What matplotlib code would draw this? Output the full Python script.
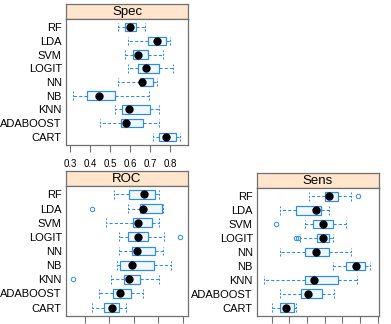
#!/usr/bin/env python3
"""Lattice-style bwplot of resampled Spec / ROC / Sens per model."""
import matplotlib
matplotlib.use("Agg")
import matplotlib.pyplot as plt

plt.rcParams["font.family"] = ["Liberation Sans", "DejaVu Sans"]

# top-to-bottom order as shown
models = ["RF", "LDA", "SVM", "LOGIT", "NN", "NB", "KNN", "ADABOOST", "CART"]

# five-number summaries: whisker low, q1, median, q3, whisker high
spec_stats = [
    [0.542, 0.575, 0.600, 0.630, 0.675],
    [0.592, 0.692, 0.733, 0.780, 0.800],
    [0.575, 0.617, 0.642, 0.692, 0.767],
    [0.592, 0.642, 0.678, 0.747, 0.817],
    [0.542, 0.650, 0.658, 0.713, 0.733],
    [0.317, 0.387, 0.443, 0.525, 0.695],
    [0.525, 0.558, 0.597, 0.700, 0.747],
    [0.450, 0.553, 0.580, 0.663, 0.747],
    [0.713, 0.747, 0.778, 0.830, 0.850],
]
spec_out = [[], [], [], [], [], [], [], [], []]

roc_stats = [
    [0.660, 0.691, 0.720, 0.744, 0.752],
    [0.688, 0.713, 0.718, 0.757, 0.760],
    [0.643, 0.699, 0.709, 0.738, 0.752],
    [0.670, 0.689, 0.709, 0.730, 0.761],
    [0.669, 0.696, 0.707, 0.744, 0.759],
    [0.665, 0.672, 0.696, 0.742, 0.776],
    [0.653, 0.679, 0.691, 0.712, 0.752],
    [0.629, 0.658, 0.672, 0.694, 0.718],
    [0.614, 0.639, 0.656, 0.669, 0.684],
]
roc_out = [[], [0.614], [], [0.795], [], [], [0.575], [], []]

sens_stats = [
    [0.414, 0.503, 0.525, 0.572, 0.646],
    [0.250, 0.339, 0.451, 0.479, 0.525],
    [0.391, 0.436, 0.488, 0.548, 0.618],
    [0.358, 0.457, 0.492, 0.525, 0.548],
    [0.250, 0.391, 0.451, 0.525, 0.646],
    [0.549, 0.618, 0.674, 0.726, 0.758],
    [0.159, 0.391, 0.442, 0.572, 0.683],
    [0.250, 0.364, 0.408, 0.483, 0.553],
    [0.200, 0.250, 0.280, 0.326, 0.339],
]
sens_out = [[0.689], [], [0.224], [0.336, 0.350], [], [], [], [], []]

spec_ticks = [0.3, 0.4, 0.5, 0.6, 0.7, 0.8]
roc_ticks = [0.60, 0.65, 0.70, 0.75, 0.80]
sens_ticks = [0.2, 0.3, 0.4, 0.5, 0.6, 0.7, 0.8]

BLUE = "#2a8cf0"
FRAME = "#707070"
STRIP = "#ffe5cc"
W, H = 391, 324

fig = plt.figure(figsize=(W / 100, H / 100), dpi=100)


def px_axes(x0, y0, x1, y1):
    # pixel box (top-left origin) -> figure axes
    return fig.add_axes([x0 / W, 1 - y1 / H, (x1 - x0) / W, (y1 - y0) / H])


def panel(x0, x1, ytop, ybot, title, stats, outs, xlim, ticks, ticklabels):
    strip = px_axes(x0, ytop, x1, ytop + 15)
    strip.set_facecolor(STRIP)
    strip.set_xticks([])
    strip.set_yticks([])
    for s in strip.spines.values():
        s.set_color(FRAME)
        s.set_linewidth(0.9)
    strip.text(0.5, 0.45, title, ha="center", va="center", fontsize=9.5,
               transform=strip.transAxes)

    ax = px_axes(x0, ytop + 15, x1, ybot)
    n = len(models)
    pos = [n - i for i in range(n)]
    bxp = []
    for i, m in enumerate(models):
        lo, q1, med, q3, hi = stats[i]
        bxp.append(dict(label=m, whislo=lo, q1=q1, med=med, q3=q3,
                        whishi=hi, fliers=outs[i]))
    ax.bxp(bxp, positions=pos, orientation="horizontal", widths=0.62,
           showfliers=True, patch_artist=True,
           boxprops=dict(facecolor="#f0f7ff", edgecolor=BLUE, linewidth=0.85),
           whiskerprops=dict(color=BLUE, linestyle=(0, (3, 2)), linewidth=0.75),
           capprops=dict(color=BLUE, linestyle=(0, (2, 1.5)), linewidth=0.75),
           capwidths=0.62,
           medianprops=dict(linewidth=0),
           flierprops=dict(marker="o", markersize=3.2, markerfacecolor="none",
                           markeredgecolor=BLUE, markeredgewidth=0.7))
    meds = [s[2] for s in stats]
    ax.plot(meds, pos, "o", color="black", markersize=5.0, zorder=5)

    ax.set_ylim(0.4, n + 0.6)
    ax.set_xlim(*xlim)
    ax.set_yticks(pos)
    ax.set_yticklabels(models, fontsize=8)
    ax.tick_params(axis="y", length=0, pad=3)
    ax.set_xticks(ticks)
    ax.set_xticklabels(ticklabels, fontsize=7)
    ax.tick_params(axis="x", length=5, width=0.8, color=FRAME, pad=5)
    for s in ax.spines.values():
        s.set_color(FRAME)
        s.set_linewidth(0.9)
    return ax


panel(66, 188, 4, 145, "Spec", spec_stats, spec_out, (0.28, 0.89),
      spec_ticks, [f"{t:.1f}" for t in spec_ticks])
panel(66, 188, 171, 316, "ROC", roc_stats, roc_out, (0.561, 0.811),
      roc_ticks, ["" for t in roc_ticks])
panel(257, 379, 173, 316, "Sens", sens_stats, sens_out, (0.118, 0.806),
      sens_ticks, ["" for t in sens_ticks])

fig.savefig("out.png", dpi=100)
